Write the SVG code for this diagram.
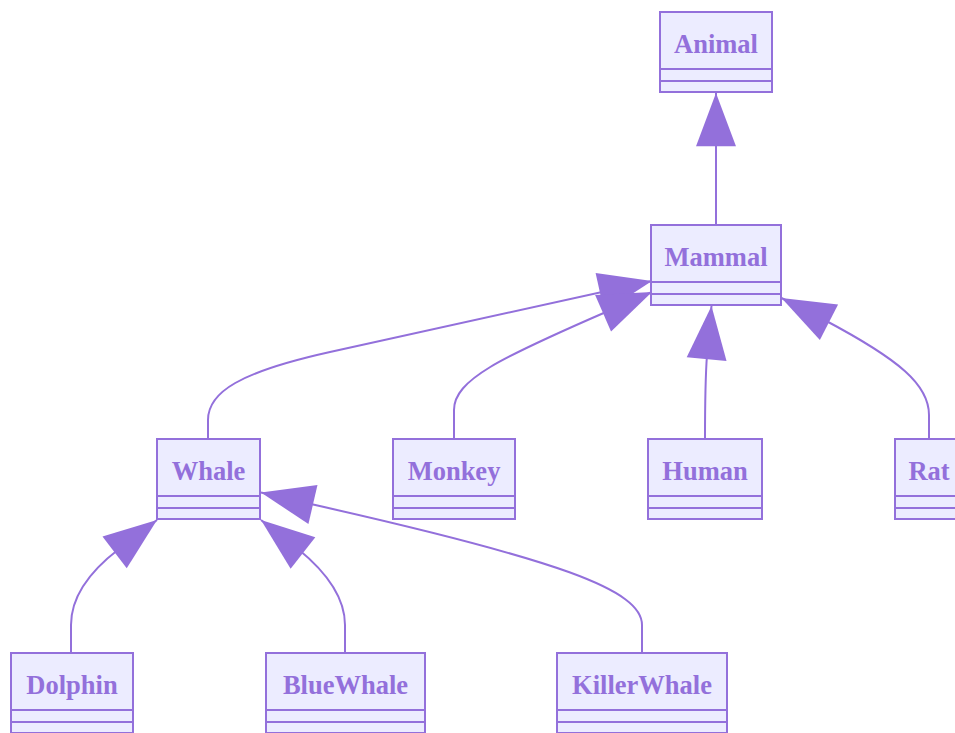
<svg xmlns="http://www.w3.org/2000/svg" width="955" height="733" viewBox="0 0 955 733">
<style>
.box{fill:#ECECFF;stroke:#9370DB;stroke-width:2}
.div{stroke:#9370DB;stroke-width:2;fill:none}
.lbl{font-family:"Liberation Serif","Times New Roman",serif;font-weight:bold;font-size:26.5px;fill:#9370DB;text-anchor:middle}
.edge{fill:none;stroke:#9370DB;stroke-width:2;marker-start:url(#ext)}
</style>
<defs>
<marker id="ext" markerUnits="userSpaceOnUse" markerWidth="60" markerHeight="60" viewBox="-2 -22 54 44" refX="0" refY="0" orient="auto" overflow="visible">
<path d="M0,0 L48,-18 L48,18 Z" fill="#9370DB"/>
</marker>
</defs>
<rect width="955" height="733" fill="#ffffff"/>
<g id="connectors">
<path class="edge" d="M716,93 L716,225"/>
<path class="edge" d="M652,281 L330,352 C240,372 208,392 208,420 L208,439"/>
<path class="edge" d="M652,292 L606,312 C500,358 454,380 454,410 L454,439"/>
<path class="edge" d="M711.5,306 L707,355 C705.5,375 705,395 705,439"/>
<path class="edge" d="M781.5,298 L824.5,320 C900,360 929,385 929,415 L929,439"/>
<path class="edge" d="M157,520 L119,549 C85,575 71,600 71,625 L71,653"/>
<path class="edge" d="M261,520 L298,549 C330,575 345,600 345,625 L345,653"/>
<path class="edge" d="M261,492.5 L307.5,503.3 C560,560 642,590 642,625 L642,653"/>
</g>
<g id="Animal">
<rect class="box" x="660" y="12" width="112" height="80"/>
<path class="div" d="M660,69H772M660,81H772"/>
<text class="lbl" x="716" y="53">Animal</text>
</g>
<g id="Mammal">
<rect class="box" x="651" y="225" width="130" height="80"/>
<path class="div" d="M651,282H781M651,294H781"/>
<text class="lbl" x="716" y="266">Mammal</text>
</g>
<g id="Whale">
<rect class="box" x="157" y="439" width="103" height="80"/>
<path class="div" d="M157,496H260M157,508H260"/>
<text class="lbl" x="208.5" y="480">Whale</text>
</g>
<g id="Monkey">
<rect class="box" x="393" y="439" width="122" height="80"/>
<path class="div" d="M393,496H515M393,508H515"/>
<text class="lbl" x="454" y="480">Monkey</text>
</g>
<g id="Human">
<rect class="box" x="648" y="439" width="114" height="80"/>
<path class="div" d="M648,496H762M648,508H762"/>
<text class="lbl" x="705" y="480">Human</text>
</g>
<g id="Rat">
<rect class="box" x="895" y="439" width="68" height="80"/>
<path class="div" d="M895,496H963M895,508H963"/>
<text class="lbl" x="929" y="480">Rat</text>
</g>
<g id="Dolphin">
<rect class="box" x="11" y="653" width="122" height="80"/>
<path class="div" d="M11,710H133M11,722H133"/>
<text class="lbl" x="72" y="694">Dolphin</text>
</g>
<g id="BlueWhale">
<rect class="box" x="266" y="653" width="159" height="80"/>
<path class="div" d="M266,710H425M266,722H425"/>
<text class="lbl" x="345.5" y="694">BlueWhale</text>
</g>
<g id="KillerWhale">
<rect class="box" x="557" y="653" width="170" height="80"/>
<path class="div" d="M557,710H727M557,722H727"/>
<text class="lbl" x="642" y="694">KillerWhale</text>
</g>
</svg>
